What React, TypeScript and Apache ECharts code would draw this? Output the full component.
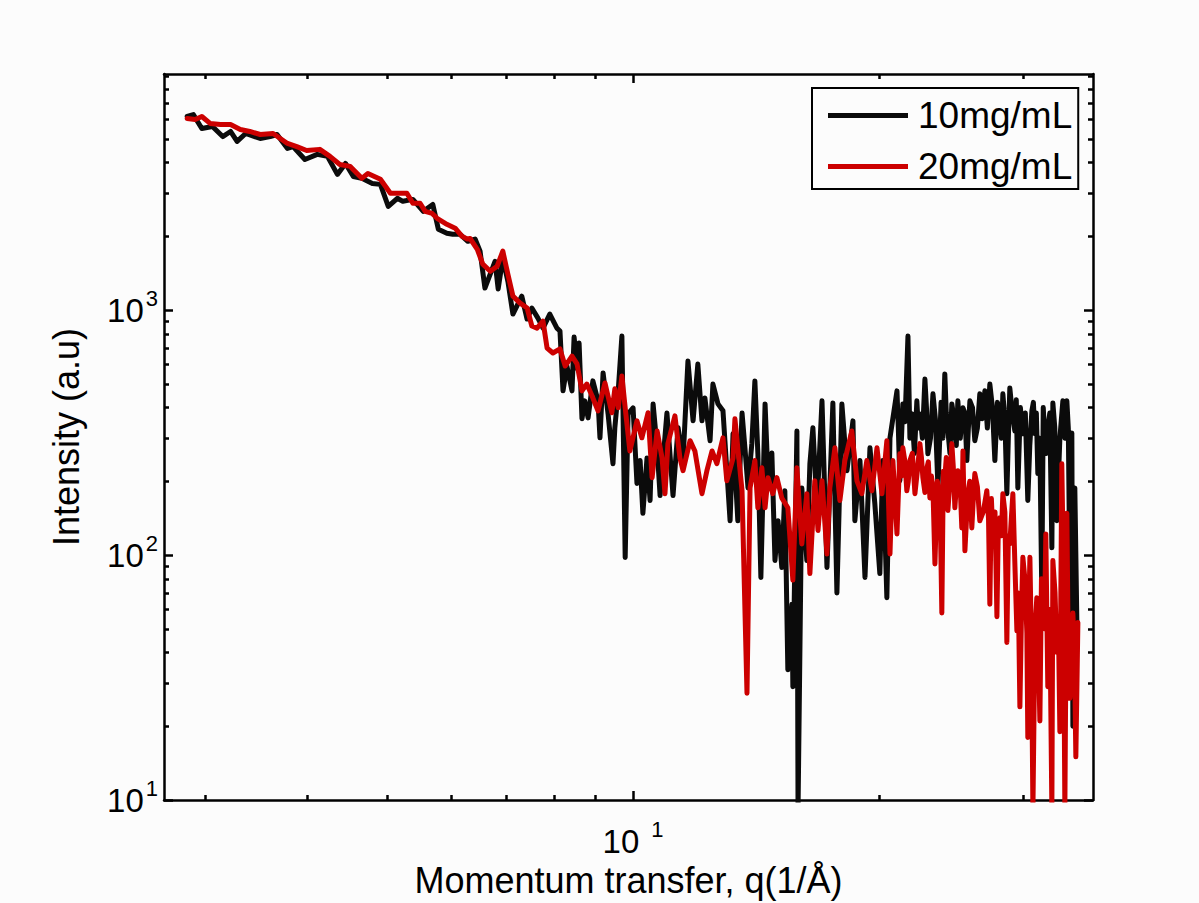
import React, { useEffect, useRef } from "react";
import * as echarts from "echarts";

// ---- Data ----
const q10 = [
  0.0285, 0.029, 0.0297, 0.0306, 0.0315, 0.0322, 0.0328, 0.0336, 0.035, 0.036, 0.0367, 0.0378, 0.0384, 0.0397, 0.0411, 0.0423,
  0.0435, 0.0445, 0.0455, 0.0466, 0.048, 0.0491, 0.0502, 0.0515,
  0.0523, 0.0538, 0.0554, 0.0569, 0.0578, 0.0592, 0.0602, 0.0614, 0.0628, 0.0641, 0.065, 0.0659, 0.0678, 0.0684, 0.0693, 0.0703,
  0.0713, 0.0731, 0.0742, 0.0752, 0.0765, 0.0776, 0.0791, 0.0807,
  0.0814, 0.0821, 0.083, 0.0842, 0.0847, 0.0854, 0.0859, 0.0866, 0.0873, 0.0881, 0.0893, 0.0906, 0.0911, 0.0919, 0.0932, 0.0945,
  0.095, 0.0959, 0.0969, 0.0978, 0.0986, 0.1, 0.1011, 0.102, 0.1028, 0.104, 0.1049, 0.1058, 0.107, 0.1079, 0.11, 0.1119,
  0.1135, 0.1151, 0.1167, 0.1184, 0.12, 0.1214, 0.1224, 0.1242, 0.1252, 0.127, 0.1288, 0.1314, 0.1325, 0.1343, 0.1359, 0.137,
  0.1382, 0.1397, 0.1409, 0.1421, 0.1433, 0.145, 0.1462, 0.1478, 0.1491, 0.1504, 0.152, 0.1533, 0.1546, 0.1564, 0.1568, 0.1586,
  0.1591, 0.1608, 0.1631, 0.1645, 0.1659, 0.1678, 0.1702, 0.1726, 0.1755, 0.1775, 0.18, 0.1826, 0.1857, 0.1867, 0.1894, 0.1921,
  0.1948, 0.1975, 0.2003, 0.202, 0.2043, 0.2061, 0.2102, 0.2119, 0.2137, 0.2168, 0.2192, 0.2223, 0.2242, 0.2274, 0.2293, 0.2326,
  0.2359, 0.2405, 0.2426, 0.2453, 0.2474, 0.2495, 0.2531, 0.2559, 0.2581, 0.2617, 0.2654, 0.2692, 0.273, 0.2769, 0.2808, 0.2832,
  0.2864, 0.2888, 0.2929, 0.2954, 0.2996, 0.3038, 0.3073, 0.3099, 0.3125, 0.316, 0.3187, 0.3214, 0.3251, 0.326, 0.3297, 0.3353,
  0.3391, 0.342, 0.3439, 0.3449, 0.3468, 0.3488,
];
const i10 = [
  6170, 6280, 5510, 5620, 5110, 5360, 4880, 5260, 5020, 5110, 5210, 4570, 4650, 4120, 4320, 4240,
  3580, 3970, 3510, 3450, 3290, 3260, 2650, 2860,
  2780, 2830, 2530, 2700, 2140, 2060, 2040, 2040, 1910, 1950, 1740, 1230, 1580, 1220, 1630, 1310,
  963, 1140, 919, 1020, 927, 844, 963, 844,
  821, 468, 591, 468, 776, 580, 734, 360, 426, 363, 514, 426, 301, 554, 377, 236,
  331, 468, 783, 97.7, 377, 399, 196, 243, 148, 249, 167, 414, 274, 175, 380, 175,
  331, 243, 620, 353, 602, 353, 438, 293, 499, 414, 388, 138, 313, 138, 380, 274,
  188, 285, 514, 259, 81, 414, 207, 261, 95, 138, 89, 183, 34, 63, 29, 321,
  9, 188, 95, 236, 331, 156, 426, 89, 418, 70, 414, 221, 353, 138, 243, 81,
  274, 162, 84, 243, 67, 301, 468, 201, 414, 783, 377, 426, 377, 523, 259, 455,
  188, 549, 321, 414, 313, 426, 399, 243, 426, 293, 455, 468, 499, 243, 353, 455,
  178, 481, 321, 188, 313, 167, 388, 313, 215, 70, 301, 331, 107, 418, 138, 426,
  426, 77, 315, 20, 188, 53,
];
// intermediate samples of the dense, noisy high-q part of the 10mg/mL curve
const q10Dense = [
  0.211, 0.2128, 0.215, 0.218, 0.2208, 0.2232, 0.2258, 0.2284, 0.231, 0.2342, 0.238, 0.2392, 0.2415, 0.244, 0.2463, 0.2484,
  0.2512, 0.2545, 0.257, 0.26, 0.2636, 0.2672, 0.2711, 0.275, 0.2789, 0.282, 0.2848, 0.2876, 0.2908, 0.2941, 0.2975, 0.3017,
  0.3055, 0.3086, 0.3112, 0.3142, 0.3173, 0.32, 0.3232, 0.3278, 0.3325, 0.3372, 0.3405,
];
const i10Dense = [
  330, 290, 350, 300, 260, 330, 300, 400, 300, 360, 420, 300, 380, 260, 380, 280,
  300, 380, 330, 400, 330, 360, 330, 400, 420, 300, 360, 300, 380, 430, 400, 380,
  280, 420, 380, 300, 400, 260, 380, 330, 300, 300, 330,
];
const q20 = [
  0.0285, 0.02915, 0.0297, 0.0304, 0.0313, 0.0322, 0.0331, 0.034, 0.035, 0.0363, 0.0378, 0.0388, 0.0399, 0.0414, 0.0426, 0.0438,
  0.0451, 0.0466, 0.0474, 0.0491, 0.0505, 0.0516, 0.0529, 0.0538, 0.0549, 0.0557, 0.0568, 0.0576, 0.0592, 0.0606, 0.0618, 0.0627,
  0.0632, 0.0645, 0.0655, 0.0669, 0.0682, 0.0693, 0.0703, 0.0713, 0.0727, 0.0742, 0.0752, 0.0763, 0.0776, 0.0785, 0.0798, 0.0814,
  0.0826, 0.0842, 0.0854, 0.0866, 0.0878, 0.0891, 0.0906, 0.0924, 0.0942, 0.095, 0.0959, 0.0969, 0.0978, 0.0991, 0.1011, 0.1025,
  0.1043, 0.1055, 0.107, 0.1085, 0.1094, 0.1103, 0.1125, 0.1141, 0.1151, 0.1174, 0.119, 0.1214, 0.1231, 0.1249, 0.1266, 0.1288,
  0.1302, 0.1325, 0.1332, 0.1359, 0.1378, 0.139, 0.1409, 0.1421, 0.1437, 0.145, 0.1462, 0.1482, 0.1499, 0.152, 0.1546, 0.1568,
  0.1586, 0.1608, 0.1631, 0.1645, 0.1668, 0.1683, 0.1702, 0.1726, 0.174, 0.1765, 0.179, 0.1815, 0.1851, 0.1878, 0.1904, 0.1931,
  0.1959, 0.1987, 0.2015, 0.2043, 0.2061, 0.2078, 0.2102, 0.2119, 0.2137, 0.2161, 0.218, 0.2211, 0.2242, 0.2261, 0.2287, 0.2306,
  0.2326, 0.2339, 0.2372, 0.2385, 0.2405, 0.2426, 0.2453, 0.2474, 0.2495, 0.2523, 0.2531, 0.2545, 0.2566, 0.2595, 0.2617, 0.2654,
  0.2707, 0.273, 0.2753, 0.2785, 0.2808, 0.2832, 0.2864, 0.2888, 0.2913, 0.2946, 0.2971, 0.2996, 0.303, 0.3038, 0.3056, 0.3082,
  0.3116, 0.3143, 0.3169, 0.3196, 0.3214, 0.3251, 0.326, 0.3297, 0.3325, 0.3343, 0.3372, 0.3391, 0.342, 0.3449, 0.3478, 0.3498,
];
const i20 = [
  6050, 6000, 6170, 5780, 5720, 5720, 5460, 5360, 5210, 5260, 4790, 4650, 4480, 4530, 4240, 3930,
  3860, 3450, 3610, 3420, 3000, 3000, 3000, 2730, 2730, 2530, 2480, 2370, 2240, 2160, 2000, 1950,
  1960, 1770, 1540, 1440, 1510, 1740, 1400, 1140, 1070, 1020, 861, 844, 902, 700, 668, 694,
  591, 649, 603, 468, 499, 446, 388, 504, 381, 477, 399, 538, 399, 266, 353, 301,
  381, 207, 321, 249, 178, 285, 370, 249, 221, 293, 266, 178, 221, 266, 236, 301,
  201, 249, 360, 183, 27.3, 188, 243, 156, 227, 156, 207, 178, 207, 171, 156, 79,
  227, 111, 178, 84, 201, 126, 201, 101, 188, 274, 167, 243, 321, 201, 178, 243,
  183, 274, 178, 293, 101, 243, 122, 259, 274, 183, 243, 178, 285, 207, 227, 171,
  188, 92, 178, 58, 207, 152, 285, 156, 221, 129, 266, 104, 178, 129, 215, 138,
  183, 63, 122, 56, 142, 178, 44, 111, 178, 49, 24, 98, 48, 18, 98, 9,
  67, 21, 67, 122, 29, 9, 95, 40, 19, 236, 9, 148, 26, 58, 15, 53,
];
// intermediate samples of the dense, noisy high-q part of the 20mg/mL curve
const q20Dense = [
  0.2128, 0.215, 0.217, 0.2195, 0.2226, 0.2252, 0.2274, 0.2296, 0.2316, 0.2355, 0.2395, 0.2415, 0.244, 0.2463, 0.2484, 0.251,
  0.258, 0.2606, 0.2636, 0.268, 0.272, 0.2742, 0.277, 0.2796, 0.282, 0.2848, 0.2876, 0.29, 0.293, 0.2958, 0.2985, 0.3013,
  0.3047, 0.307, 0.31, 0.313, 0.3157, 0.3183, 0.3232, 0.328, 0.3312, 0.3358, 0.3405, 0.3435, 0.3464,
];
const i20Dense = [
  210, 240, 200, 260, 220, 250, 180, 240, 210, 200, 220, 250, 200, 230, 190, 200,
  200, 170, 190, 150, 140, 170, 150, 130, 120, 150, 120, 140, 90, 70, 60, 80,
  60, 40, 50, 40, 80, 50, 60, 70, 50, 90, 40, 30, 40,
];

const seriesNames = ["10mg/mL", "20mg/mL"];
const seriesColors = ["#0b0b0b", "#cc0000"];

const xMin = 0.0267;
const xMax = 0.365;
const yMin = 10;
const yMax = 9200;

const xMajorTicks = [0.1];
const xMajorExponents = ["1"];
const xMinorTicks = [0.03, 0.04, 0.05, 0.06, 0.07, 0.08, 0.09, 0.2, 0.3];
const yMajorTicks = [10, 100, 1000];
const yMajorExponents = ["1", "2", "3"];
const yMinorTicks = [20, 30, 40, 50, 60, 70, 80, 90, 200, 300, 400, 500, 600, 700, 800, 900, 2000, 3000, 4000, 5000, 6000, 7000, 8000, 9000];

const xTitle = "Momentum transfer, q(1/Å)";
const yTitle = "Intensity (a.u)";

const FONT = '"Liberation Sans", Arial, Helvetica, sans-serif';
const LINE_W = 2.5;

function findExp(ticks: number[], exps: string[], v: number) {
  const i = ticks.findIndex((t) => Math.abs(t - v) / t < 1e-6);
  return i >= 0 ? exps[i] : "";
}

function mergeSorted(qa: number[], ia: number[], qb: number[], ib: number[]) {
  const pts = qa.map((q, k) => [q, ia[k]]).concat(qb.map((q, k) => [q, ib[k]]));
  pts.sort((a, b) => a[0] - b[0]);
  return pts;
}

export default function App() {
  const ref = useRef<HTMLDivElement>(null);
  useEffect(() => {
    if (!ref.current) return;
    const chart = echarts.init(ref.current, undefined, { renderer: "svg" });

    const rich = (gap: number) => ({
      b: { fontSize: 33, fontFamily: FONT, color: "#000", lineHeight: 46, verticalAlign: "middle" },
      s: { fontSize: 22, fontFamily: FONT, color: "#000", lineHeight: 46, verticalAlign: "top", padding: [0, 0, 0, gap] },
    });

    const baseAxis = (kind: "x" | "y", position: string, major: boolean, showLine: boolean) => {
      const isX = kind === "x";
      const min = isX ? xMin : yMin;
      const max = isX ? xMax : yMax;
      const ticks = isX ? (major ? xMajorTicks : xMinorTicks) : major ? yMajorTicks : yMinorTicks;
      return {
        type: "log",
        logBase: 10,
        min,
        max,
        position,
        axisLine: { show: showLine, onZero: false, lineStyle: { color: "#000", width: LINE_W } },
        axisTick: {
          show: true,
          inside: true,
          length: major ? 9 : 5,
          customValues: ticks,
          lineStyle: { color: "#000", width: LINE_W },
        },
        axisLabel: { show: false },
        splitLine: { show: false },
        minorTick: { show: false },
        minorSplitLine: { show: false },
      } as any;
    };

    const xBottomMajor = baseAxis("x", "bottom", true, true);
    xBottomMajor.axisLabel = {
      show: true,
      customValues: xMajorTicks,
      margin: 18,
      formatter: (v: number) => `{b|10}{s|${findExp(xMajorTicks, xMajorExponents, v)}}`,
      rich: rich(12),
    };
    xBottomMajor.name = xTitle;
    xBottomMajor.nameLocation = "middle";
    xBottomMajor.nameGap = 58;
    xBottomMajor.nameTextStyle = { fontSize: 36, fontFamily: FONT, color: "#000" };

    const yLeftMajor = baseAxis("y", "left", true, true);
    yLeftMajor.axisLabel = {
      show: true,
      customValues: yMajorTicks,
      margin: 6,
      formatter: (v: number) => `{b|10}{s|${findExp(yMajorTicks, yMajorExponents, v)}}`,
      rich: rich(2),
    };
    yLeftMajor.name = yTitle;
    yLeftMajor.nameLocation = "middle";
    yLeftMajor.nameGap = 80;
    yLeftMajor.nameTextStyle = { fontSize: 36, fontFamily: FONT, color: "#000" };

    const option: any = {
      animation: false,
      backgroundColor: "#fcfcfc",
      textStyle: { fontFamily: FONT },
      grid: { left: 164, top: 74, width: 929, height: 726, outerBoundsMode: "none", containLabel: false },
      xAxis: [
        xBottomMajor,
        baseAxis("x", "bottom", false, false),
        baseAxis("x", "top", true, true),
        baseAxis("x", "top", false, false),
      ],
      yAxis: [
        yLeftMajor,
        baseAxis("y", "left", false, false),
        baseAxis("y", "right", true, true),
        baseAxis("y", "right", false, false),
      ],
      legend: {
        show: true,
        orient: "vertical",
        left: 812,
        top: 88,
        data: seriesNames.map((n) => ({ name: n, icon: "rect" })),
        itemWidth: 80,
        itemHeight: 5,
        itemGap: 14,
        padding: [9, 6, 4, 16],
        borderColor: "#000",
        borderWidth: 2,
        backgroundColor: "#fcfcfc",
        textStyle: { fontSize: 37, fontFamily: FONT, color: "#000", lineHeight: 36, padding: [0, 0, 0, 5] },
      },
      series: [
        {
          name: seriesNames[0],
          type: "line",
          xAxisIndex: 0,
          yAxisIndex: 0,
          data: mergeSorted(q10, i10, q10Dense, i10Dense),
          symbol: "none",
          showSymbol: false,
          clip: true,
          color: seriesColors[0],
          itemStyle: { color: seriesColors[0] },
          lineStyle: { color: seriesColors[0], width: 5, join: "round", cap: "round" },
          z: 2,
        },
        {
          name: seriesNames[1],
          type: "line",
          xAxisIndex: 0,
          yAxisIndex: 0,
          data: mergeSorted(q20, i20, q20Dense, i20Dense),
          symbol: "none",
          showSymbol: false,
          clip: true,
          color: seriesColors[1],
          itemStyle: { color: seriesColors[1] },
          lineStyle: { color: seriesColors[1], width: 5, join: "round", cap: "round" },
          z: 3,
        },
      ],
    };
    chart.setOption(option);
    return () => chart.dispose();
  }, []);

  return (
    <div
      ref={ref}
      style={{ position: "absolute", left: 0, top: 0, width: 1199, height: 903, background: "#fcfcfc" }}
    />
  );
}
